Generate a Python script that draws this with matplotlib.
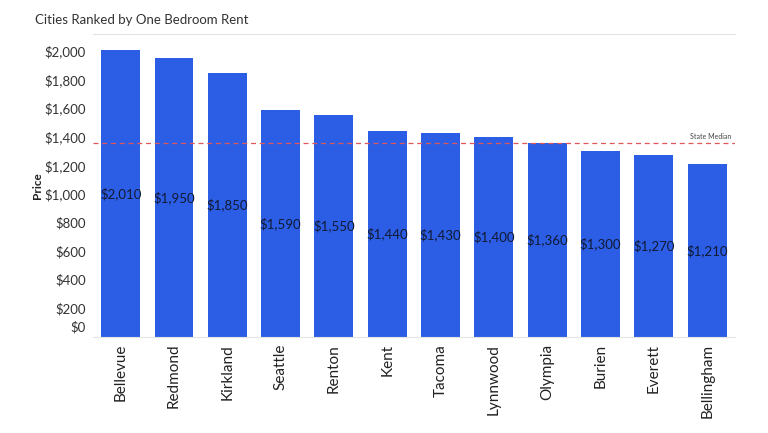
import matplotlib.pyplot as plt
import matplotlib.transforms as mtransforms

plt.rcParams["font.family"] = ["Lato", "DejaVu Sans"]

cities = ["Bellevue", "Redmond", "Kirkland", "Seattle", "Renton", "Kent",
          "Tacoma", "Lynnwood", "Olympia", "Burien", "Everett", "Bellingham"]
rents = [2010, 1950, 1850, 1590, 1550, 1440, 1430, 1400, 1360, 1300, 1270, 1210]
state_median = 1360
y_ticks = [0, 200, 400, 600, 800, 1000, 1200, 1400, 1600, 1800, 2000]

fig = plt.figure(figsize=(7.68, 4.33), dpi=100)
ax = fig.add_axes([0.121, 0.222, 0.836, 0.699])

xs = range(len(cities))
ax.bar(xs, rents, width=0.73, color="#2c5de5")
for x, v in zip(xs, rents):
    ax.text(x, v / 2, f"${v:,}", ha="center", va="center", fontsize=9.5, color="#111a33")

ax.axhline(state_median, color="#e0575b", linestyle=(0, (4, 3)), linewidth=0.9)
ax.text(11.45, state_median + 15, "State Median", ha="right", va="bottom",
        fontsize=5, color="#444444")

ax.set_xlim(-0.52, 11.52)
ax.set_ylim(0, 2118)
ax.set_xticks(list(xs))
ax.set_xticklabels(cities, rotation=90, fontsize=11, color="#222222")
ax.set_yticks(y_ticks)
# the $0 label sits a little above the baseline in the original, drawn separately
ax.set_yticklabels([""] + [f"${t:,}" for t in y_ticks[1:]], fontsize=9.5, color="#333333")
trans = mtransforms.blended_transform_factory(ax.transAxes, ax.transData) + \
    mtransforms.ScaledTranslation(-5 / 72, 7 / 72, fig.dpi_scale_trans)
ax.text(0, 0, "$0", transform=trans, ha="right", va="center", fontsize=9.5, color="#333333")
ax.tick_params(length=0, pad=5)
ax.set_ylabel("Price", fontsize=8.5, fontweight="bold", color="#222222", labelpad=1)

for s in ["left", "right"]:
    ax.spines[s].set_visible(False)
ax.spines["top"].set_color("#e3e3e3")
ax.spines["bottom"].set_color("#e3e3e3")

fig.text(0.045, 0.953, "Cities Ranked by One Bedroom Rent", fontsize=9.5, color="#333333",
         va="center")

fig.savefig("out.png", dpi=100)
